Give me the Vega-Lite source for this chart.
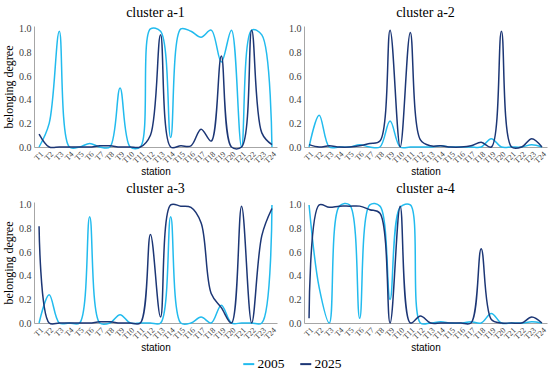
{
  "$schema": "https://vega.github.io/schema/vega-lite/v6.json",
  "padding": {"left": 2, "top": 5, "right": 5, "bottom": 5},
  "datasets": {
    "d": [
      {"c":"a-1","y":"2005","s":"T1","v":0},{"c":"a-1","y":"2005","s":"T2","v":0.2},{"c":"a-1","y":"2005","s":"T3","v":0.98},{"c":"a-1","y":"2005","s":"T4","v":0},{"c":"a-1","y":"2005","s":"T5","v":0},{"c":"a-1","y":"2005","s":"T6","v":0.03},{"c":"a-1","y":"2005","s":"T7","v":0},{"c":"a-1","y":"2005","s":"T8","v":0},{"c":"a-1","y":"2005","s":"T9","v":0.5},{"c":"a-1","y":"2005","s":"T10","v":0},{"c":"a-1","y":"2005","s":"T11","v":0},{"c":"a-1","y":"2005","s":"T12","v":1.0},{"c":"a-1","y":"2005","s":"T13","v":0.98},{"c":"a-1","y":"2005","s":"T14","v":0.08},{"c":"a-1","y":"2005","s":"T15","v":1.0},{"c":"a-1","y":"2005","s":"T16","v":0.98},{"c":"a-1","y":"2005","s":"T17","v":0.93},{"c":"a-1","y":"2005","s":"T18","v":0.99},{"c":"a-1","y":"2005","s":"T19","v":0.72},{"c":"a-1","y":"2005","s":"T20","v":0.99},{"c":"a-1","y":"2005","s":"T21","v":0},{"c":"a-1","y":"2005","s":"T22","v":0.99},{"c":"a-1","y":"2005","s":"T23","v":0.95},{"c":"a-1","y":"2005","s":"T24","v":0},
      {"c":"a-1","y":"2025","s":"T1","v":0.11},{"c":"a-1","y":"2025","s":"T2","v":0},{"c":"a-1","y":"2025","s":"T3","v":0},{"c":"a-1","y":"2025","s":"T4","v":0},{"c":"a-1","y":"2025","s":"T5","v":0},{"c":"a-1","y":"2025","s":"T6","v":0},{"c":"a-1","y":"2025","s":"T7","v":0.01},{"c":"a-1","y":"2025","s":"T8","v":0.01},{"c":"a-1","y":"2025","s":"T9","v":0},{"c":"a-1","y":"2025","s":"T10","v":0},{"c":"a-1","y":"2025","s":"T11","v":0},{"c":"a-1","y":"2025","s":"T12","v":0.1},{"c":"a-1","y":"2025","s":"T13","v":0.95},{"c":"a-1","y":"2025","s":"T14","v":0},{"c":"a-1","y":"2025","s":"T15","v":0.01},{"c":"a-1","y":"2025","s":"T16","v":0.01},{"c":"a-1","y":"2025","s":"T17","v":0.15},{"c":"a-1","y":"2025","s":"T18","v":0.05},{"c":"a-1","y":"2025","s":"T19","v":0.77},{"c":"a-1","y":"2025","s":"T20","v":0},{"c":"a-1","y":"2025","s":"T21","v":0},{"c":"a-1","y":"2025","s":"T22","v":0.99},{"c":"a-1","y":"2025","s":"T23","v":0.12},{"c":"a-1","y":"2025","s":"T24","v":0.02},
      {"c":"a-2","y":"2005","s":"T1","v":0},{"c":"a-2","y":"2005","s":"T2","v":0.27},{"c":"a-2","y":"2005","s":"T3","v":0},{"c":"a-2","y":"2005","s":"T4","v":0},{"c":"a-2","y":"2005","s":"T5","v":0},{"c":"a-2","y":"2005","s":"T6","v":0.02},{"c":"a-2","y":"2005","s":"T7","v":0},{"c":"a-2","y":"2005","s":"T8","v":0},{"c":"a-2","y":"2005","s":"T9","v":0.22},{"c":"a-2","y":"2005","s":"T10","v":0},{"c":"a-2","y":"2005","s":"T11","v":0},{"c":"a-2","y":"2005","s":"T12","v":0},{"c":"a-2","y":"2005","s":"T13","v":0},{"c":"a-2","y":"2005","s":"T14","v":0.01},{"c":"a-2","y":"2005","s":"T15","v":0},{"c":"a-2","y":"2005","s":"T16","v":0},{"c":"a-2","y":"2005","s":"T17","v":0},{"c":"a-2","y":"2005","s":"T18","v":0},{"c":"a-2","y":"2005","s":"T19","v":0.07},{"c":"a-2","y":"2005","s":"T20","v":0},{"c":"a-2","y":"2005","s":"T21","v":0},{"c":"a-2","y":"2005","s":"T22","v":0},{"c":"a-2","y":"2005","s":"T23","v":0.02},{"c":"a-2","y":"2005","s":"T24","v":0},
      {"c":"a-2","y":"2025","s":"T1","v":0.02},{"c":"a-2","y":"2025","s":"T2","v":0},{"c":"a-2","y":"2025","s":"T3","v":0.01},{"c":"a-2","y":"2025","s":"T4","v":0},{"c":"a-2","y":"2025","s":"T5","v":0},{"c":"a-2","y":"2025","s":"T6","v":0.01},{"c":"a-2","y":"2025","s":"T7","v":0.03},{"c":"a-2","y":"2025","s":"T8","v":0.05},{"c":"a-2","y":"2025","s":"T9","v":0.99},{"c":"a-2","y":"2025","s":"T10","v":0},{"c":"a-2","y":"2025","s":"T11","v":0.97},{"c":"a-2","y":"2025","s":"T12","v":0.06},{"c":"a-2","y":"2025","s":"T13","v":0.01},{"c":"a-2","y":"2025","s":"T14","v":0.01},{"c":"a-2","y":"2025","s":"T15","v":0},{"c":"a-2","y":"2025","s":"T16","v":0},{"c":"a-2","y":"2025","s":"T17","v":0.01},{"c":"a-2","y":"2025","s":"T18","v":0.04},{"c":"a-2","y":"2025","s":"T19","v":0},{"c":"a-2","y":"2025","s":"T20","v":0.98},{"c":"a-2","y":"2025","s":"T21","v":0},{"c":"a-2","y":"2025","s":"T22","v":0},{"c":"a-2","y":"2025","s":"T23","v":0.07},{"c":"a-2","y":"2025","s":"T24","v":0},
      {"c":"a-3","y":"2005","s":"T1","v":0},{"c":"a-3","y":"2005","s":"T2","v":0.24},{"c":"a-3","y":"2005","s":"T3","v":0},{"c":"a-3","y":"2005","s":"T4","v":0},{"c":"a-3","y":"2005","s":"T5","v":0},{"c":"a-3","y":"2005","s":"T6","v":0.9},{"c":"a-3","y":"2005","s":"T7","v":0},{"c":"a-3","y":"2005","s":"T8","v":0},{"c":"a-3","y":"2005","s":"T9","v":0.07},{"c":"a-3","y":"2005","s":"T10","v":0},{"c":"a-3","y":"2005","s":"T11","v":0},{"c":"a-3","y":"2005","s":"T12","v":0},{"c":"a-3","y":"2005","s":"T13","v":0},{"c":"a-3","y":"2005","s":"T14","v":0.9},{"c":"a-3","y":"2005","s":"T15","v":0},{"c":"a-3","y":"2005","s":"T16","v":0},{"c":"a-3","y":"2005","s":"T17","v":0.05},{"c":"a-3","y":"2005","s":"T18","v":0},{"c":"a-3","y":"2005","s":"T19","v":0.15},{"c":"a-3","y":"2005","s":"T20","v":0},{"c":"a-3","y":"2005","s":"T21","v":0},{"c":"a-3","y":"2005","s":"T22","v":0},{"c":"a-3","y":"2005","s":"T23","v":0},{"c":"a-3","y":"2005","s":"T24","v":1.0},
      {"c":"a-3","y":"2025","s":"T1","v":0.82},{"c":"a-3","y":"2025","s":"T2","v":0},{"c":"a-3","y":"2025","s":"T3","v":0},{"c":"a-3","y":"2025","s":"T4","v":0},{"c":"a-3","y":"2025","s":"T5","v":0},{"c":"a-3","y":"2025","s":"T6","v":0},{"c":"a-3","y":"2025","s":"T7","v":0.01},{"c":"a-3","y":"2025","s":"T8","v":0.01},{"c":"a-3","y":"2025","s":"T9","v":0},{"c":"a-3","y":"2025","s":"T10","v":0},{"c":"a-3","y":"2025","s":"T11","v":0},{"c":"a-3","y":"2025","s":"T12","v":0.75},{"c":"a-3","y":"2025","s":"T13","v":0.05},{"c":"a-3","y":"2025","s":"T14","v":1.0},{"c":"a-3","y":"2025","s":"T15","v":0.99},{"c":"a-3","y":"2025","s":"T16","v":0.98},{"c":"a-3","y":"2025","s":"T17","v":0.85},{"c":"a-3","y":"2025","s":"T18","v":0.25},{"c":"a-3","y":"2025","s":"T19","v":0.13},{"c":"a-3","y":"2025","s":"T20","v":0},{"c":"a-3","y":"2025","s":"T21","v":0.99},{"c":"a-3","y":"2025","s":"T22","v":0},{"c":"a-3","y":"2025","s":"T23","v":0.74},{"c":"a-3","y":"2025","s":"T24","v":0.97},
      {"c":"a-4","y":"2005","s":"T1","v":1.0},{"c":"a-4","y":"2005","s":"T2","v":0.3},{"c":"a-4","y":"2005","s":"T3","v":0},{"c":"a-4","y":"2005","s":"T4","v":0.99},{"c":"a-4","y":"2005","s":"T5","v":1.0},{"c":"a-4","y":"2005","s":"T6","v":0.04},{"c":"a-4","y":"2005","s":"T7","v":1.0},{"c":"a-4","y":"2005","s":"T8","v":0.99},{"c":"a-4","y":"2005","s":"T9","v":0.2},{"c":"a-4","y":"2005","s":"T10","v":0.98},{"c":"a-4","y":"2005","s":"T11","v":1.0},{"c":"a-4","y":"2005","s":"T12","v":0},{"c":"a-4","y":"2005","s":"T13","v":0},{"c":"a-4","y":"2005","s":"T14","v":0.01},{"c":"a-4","y":"2005","s":"T15","v":0},{"c":"a-4","y":"2005","s":"T16","v":0},{"c":"a-4","y":"2005","s":"T17","v":0.01},{"c":"a-4","y":"2005","s":"T18","v":0},{"c":"a-4","y":"2005","s":"T19","v":0.08},{"c":"a-4","y":"2005","s":"T20","v":0},{"c":"a-4","y":"2005","s":"T21","v":0},{"c":"a-4","y":"2005","s":"T22","v":0},{"c":"a-4","y":"2005","s":"T23","v":0.01},{"c":"a-4","y":"2005","s":"T24","v":0},
      {"c":"a-4","y":"2025","s":"T1","v":0.04},{"c":"a-4","y":"2025","s":"T2","v":1.0},{"c":"a-4","y":"2025","s":"T3","v":0.98},{"c":"a-4","y":"2025","s":"T4","v":0.99},{"c":"a-4","y":"2025","s":"T5","v":0.99},{"c":"a-4","y":"2025","s":"T6","v":0.99},{"c":"a-4","y":"2025","s":"T7","v":0.96},{"c":"a-4","y":"2025","s":"T8","v":0.93},{"c":"a-4","y":"2025","s":"T9","v":0},{"c":"a-4","y":"2025","s":"T10","v":0.99},{"c":"a-4","y":"2025","s":"T11","v":0},{"c":"a-4","y":"2025","s":"T12","v":0.06},{"c":"a-4","y":"2025","s":"T13","v":0},{"c":"a-4","y":"2025","s":"T14","v":0},{"c":"a-4","y":"2025","s":"T15","v":0},{"c":"a-4","y":"2025","s":"T16","v":0},{"c":"a-4","y":"2025","s":"T17","v":0},{"c":"a-4","y":"2025","s":"T18","v":0.63},{"c":"a-4","y":"2025","s":"T19","v":0.03},{"c":"a-4","y":"2025","s":"T20","v":0},{"c":"a-4","y":"2025","s":"T21","v":0},{"c":"a-4","y":"2025","s":"T22","v":0},{"c":"a-4","y":"2025","s":"T23","v":0.05},{"c":"a-4","y":"2025","s":"T24","v":0}
    ]
  },
  "data": {"name": "d"},
  "config": {
    "view": {"stroke": null},
    "concat": {"spacing": 4},
    "title": {"font": "Liberation Serif", "fontSize": 14, "fontWeight": "normal", "color": "#000000", "offset": 4},
    "axis": {"grid": false, "ticks": false, "domainColor": "#a6a6a6", "labelColor": "#404040", "labelFont": "Liberation Serif", "titleFontWeight": "normal", "titleColor": "#000000"},
    "axisX": {"labelFontSize": 8, "labelAngle": -45, "labelPadding": 3, "titleFont": "Liberation Sans", "titleFontSize": 10, "titlePadding": 2},
    "axisY": {"labelFontSize": 10, "labelPadding": 3, "titleFont": "Liberation Serif", "titleFontSize": 12, "titlePadding": 3},
    "legend": {"labelFont": "Liberation Serif", "labelFontSize": 13.5, "labelColor": "#000000", "labelOffset": 2, "symbolType": "stroke", "symbolStrokeWidth": 2, "symbolSize": 121, "columnPadding": 11}
  },
  "vconcat": [
    {"spacing": 10, "hconcat": [
      {"width": 243, "height": 121, "title": "cluster a-1",
       "transform": [{"filter": "datum.c === 'a-1'"}],
       "mark": {"type": "line", "interpolate": "catmull-rom", "strokeWidth": 1.5},
       "encoding": {
         "x": {"field": "s", "type": "ordinal", "sort": ["T1","T2","T3","T4","T5","T6","T7","T8","T9","T10","T11","T12","T13","T14","T15","T16","T17","T18","T19","T20","T21","T22","T23","T24"], "scale": {"type": "point", "padding": 0.5}, "axis": {"title": "station"}},
         "y": {"field": "v", "type": "quantitative", "scale": {"domain": [0, 1.025], "nice": false}, "axis": {"title": "belonging degree", "values": [0, 0.2, 0.4, 0.6, 0.8, 1.0], "format": ".1f"}},
         "color": {"field": "y", "type": "nominal", "scale": {"domain": ["2005", "2025"], "range": ["#22BBEE", "#1C3675"]}, "legend": {"title": null, "orient": "none", "direction": "horizontal", "legendX": 208, "legendY": 331}}
       }},
      {"width": 243, "height": 121, "title": "cluster a-2",
       "transform": [{"filter": "datum.c === 'a-2'"}],
       "mark": {"type": "line", "interpolate": "catmull-rom", "strokeWidth": 1.5},
       "encoding": {
         "x": {"field": "s", "type": "ordinal", "sort": ["T1","T2","T3","T4","T5","T6","T7","T8","T9","T10","T11","T12","T13","T14","T15","T16","T17","T18","T19","T20","T21","T22","T23","T24"], "scale": {"type": "point", "padding": 0.5}, "axis": {"title": "station"}},
         "y": {"field": "v", "type": "quantitative", "scale": {"domain": [0, 1.025], "nice": false}, "axis": {"title": null, "values": [0, 0.2, 0.4, 0.6, 0.8, 1.0], "format": ".1f"}},
         "color": {"field": "y", "type": "nominal"}
       }}
    ]},
    {"spacing": 10, "hconcat": [
      {"width": 243, "height": 121, "title": "cluster a-3",
       "transform": [{"filter": "datum.c === 'a-3'"}],
       "mark": {"type": "line", "interpolate": "catmull-rom", "strokeWidth": 1.5},
       "encoding": {
         "x": {"field": "s", "type": "ordinal", "sort": ["T1","T2","T3","T4","T5","T6","T7","T8","T9","T10","T11","T12","T13","T14","T15","T16","T17","T18","T19","T20","T21","T22","T23","T24"], "scale": {"type": "point", "padding": 0.5}, "axis": {"title": "station"}},
         "y": {"field": "v", "type": "quantitative", "scale": {"domain": [0, 1.025], "nice": false}, "axis": {"title": "belonging degree", "values": [0, 0.2, 0.4, 0.6, 0.8, 1.0], "format": ".1f"}},
         "color": {"field": "y", "type": "nominal"}
       }},
      {"width": 243, "height": 121, "title": "cluster a-4",
       "transform": [{"filter": "datum.c === 'a-4'"}],
       "mark": {"type": "line", "interpolate": "catmull-rom", "strokeWidth": 1.5},
       "encoding": {
         "x": {"field": "s", "type": "ordinal", "sort": ["T1","T2","T3","T4","T5","T6","T7","T8","T9","T10","T11","T12","T13","T14","T15","T16","T17","T18","T19","T20","T21","T22","T23","T24"], "scale": {"type": "point", "padding": 0.5}, "axis": {"title": "station"}},
         "y": {"field": "v", "type": "quantitative", "scale": {"domain": [0, 1.025], "nice": false}, "axis": {"title": null, "values": [0, 0.2, 0.4, 0.6, 0.8, 1.0], "format": ".1f"}},
         "color": {"field": "y", "type": "nominal"}
       }}
    ]}
  ]
}
